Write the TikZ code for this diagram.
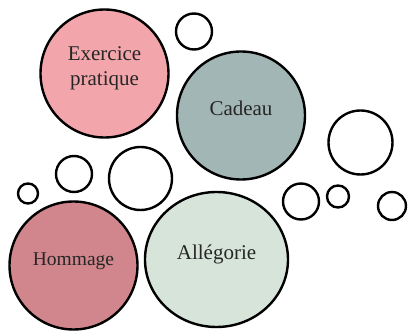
\documentclass[tikz,border=0pt]{standalone}
\usepackage{fontspec}
\setmainfont{Liberation Serif}
\usetikzlibrary{shapes.geometric}
\definecolor{cpink}{HTML}{F2A6AC}
\definecolor{cgray}{HTML}{A2B7B5}
\definecolor{crose}{HTML}{D0868C}
\definecolor{cmint}{HTML}{D7E4DA}
\tikzset{
  bubble/.style={circle, draw=black, line width=2.4pt, inner sep=0pt, fill=white},
  bigbubble/.style={bubble, minimum size=128pt},
  lbl/.style={inner sep=0pt, anchor=base, text=black!85, font=\fontsize{21}{26}\selectfont}
}
\begin{document}
\begin{tikzpicture}[x=1pt, y=-1pt]
\useasboundingbox (0,0) rectangle (408,331);
% small empty bubbles
\node[bubble, minimum size=36pt] (s1) at (194,31.5) {};
\node[bubble, minimum size=64pt] (s2) at (360.5,142.5) {};
\node[bubble, minimum size=63pt] (s3) at (140.5,178.5) {};
\node[bubble, minimum size=36pt] (s4) at (74,174) {};
\node[bubble, minimum size=20pt] (s5) at (28,193.5) {};
\node[bubble, minimum size=36pt] (s6) at (301,201.5) {};
\node[bubble, minimum size=22pt] (s7) at (338,196.5) {};
\node[bubble, minimum size=28pt] (s8) at (392,206) {};
% big bubbles
\node[bigbubble, fill=cpink] (ex) at (104.5,73.5) {};
\node[bigbubble, fill=cgray] (ca) at (241,115.5) {};
\node[bigbubble, fill=crose] (ho) at (73.5,265.5) {};
\node[ellipse, draw=black, line width=2.4pt, fill=cmint, minimum width=143pt, minimum height=135pt, inner sep=0pt] (al) at (216.5,259.5) {};
% labels
\node[lbl] (exa) at ([yshift=12.5pt]ex.center) {Exercice};
\node[lbl] (exb) at ([yshift=-12.5pt]ex.center) {pratique};
\node[lbl] (cat) at (ca.center) {Cadeau};
\node[lbl, font=\fontsize{19.5}{24}\selectfont] (hot) at (ho.center) {Hommage};
\node[lbl] (alt) at (al.center) {Allégorie};
\end{tikzpicture}
\end{document}
